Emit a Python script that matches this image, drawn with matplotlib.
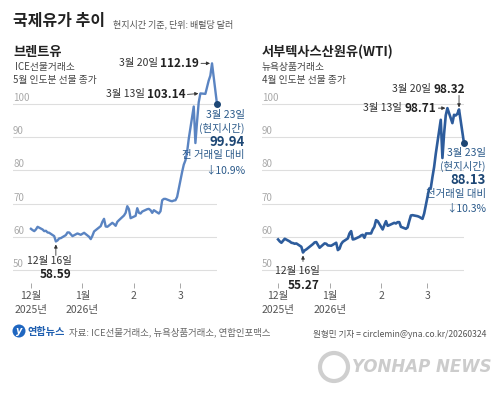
import numpy as np
import pandas as pd
import matplotlib
matplotlib.use("Agg")
import matplotlib.pyplot as plt
from matplotlib.patches import Ellipse

plt.rcParams['font.family'] = ['Noto Sans CJK KR', 'DejaVu Sans']

# 거래일 (12/25, 1/1 휴장 제외)
dates = pd.bdate_range('2025-12-01', '2026-03-23').drop(pd.to_datetime(['2025-12-25', '2026-01-01']))

# 브렌트유 (ICE, 5월물) 종가
brent = [62.4, 62.0, 61.7, 62.2, 63.0, 62.2, 61.7, 61.8, 61.3, 61.2, 60.2, 58.59, 58.9, 59.5, 59.6,
         60.5, 61.3, 61.3, 60.2, 61.0, 60.8, 60.6,
         61.2, 60.0, 59.3, 60.3, 61.6, 62.0, 63.2, 64.5, 65.4, 63.1, 63.0, 64.2, 63.8, 63.3, 64.5,
         65.0, 66.4, 67.2, 69.2, 68.3, 65.6,
         66.3, 68.6, 67.2, 67.0, 67.6, 68.3, 68.4, 68.0, 67.2, 68.0, 67.0, 67.7, 71.0, 71.4, 71.4,
         70.8, 70.7, 70.9, 71.0, 72.0,
         79.5, 81.7, 83.0, 85.5, 89.5, 99.2, 88.2, 94.7, 100.5, 103.14, 103.0, 105.0, 107.0, 108.5,
         112.19, 99.94]

# 서부텍사스산원유 (NYMEX, 4월물) 종가
wti = [59.2, 58.6, 58.2, 58.8, 59.4, 58.6, 58.2, 58.1, 57.9, 58.0, 57.0, 55.27, 55.9, 56.2, 56.6,
       57.8, 58.3, 58.4, 56.7, 58.0, 57.9, 57.4,
       57.3, 58.2, 56.0, 56.4, 57.8, 58.5, 59.5, 61.0, 61.7, 59.2, 59.3, 60.0, 60.4, 60.6, 59.7,
       61.0, 61.0, 62.2, 63.0, 65.0, 64.7,
       62.2, 63.5, 64.7, 63.3, 63.5, 64.2, 64.0, 64.4, 64.4, 63.0, 62.4, 62.8, 64.7, 66.4, 66.5,
       66.2, 66.0, 65.7, 65.4, 67.0,
       74.5, 74.7, 78.0, 81.0, 85.0, 95.2, 83.7, 91.0, 96.5, 98.71, 94.2, 96.7, 96.5, 97.0,
       98.32, 88.13]

tick_dates = pd.to_datetime(['2025-12-01', '2026-01-01', '2026-02-01', '2026-03-01'])
tick_labels = ['12월\n2025년', '1월\n2026년', '2', '3']
y_ticks = [50, 60, 70, 80, 90, 100]

W, H = 500, 397
fig = plt.figure(figsize=(5, 3.97), dpi=100)


def fx(p):
    return p / W


def fy(p):
    return 1 - p / H


def pt(p):
    return p * 0.72


NAVY = '#1d4775'
BLUE_TXT = '#2b5a8a'


def setup(ax, left_days):
    ax.set_xlim(dates[0] - pd.Timedelta(days=left_days), dates[-1])
    ax.set_ylim(49.4, 114.7)
    for s in ax.spines.values():
        s.set_visible(False)
    ax.spines['bottom'].set_position(('outward', pt(11)))
    ax.set_yticks([])
    for v in y_ticks:
        ax.axhline(v, color='#dedede', lw=0.8, zorder=0)
        ax.annotate(str(v), xy=(0, v), xycoords=ax.get_yaxis_transform(), xytext=(0, pt(1)),
                    textcoords='offset points', ha='left', va='bottom', fontsize=7, color='#aaaaaa')
    ax.set_xticks(tick_dates)
    ax.set_xticklabels(tick_labels, fontsize=7.5, color='#555555', linespacing=1.45)
    ax.tick_params(axis='x', length=pt(5), width=0.6, color='#999999', pad=pt(3))


def peak_label(ax, d, v, label, num, dx, dy, arrow):
    # dx, dy: 픽셀 단위 (dy는 아래쪽이 +)
    t = ax.annotate(num, xy=(d, v), xytext=(pt(dx), -pt(dy)), textcoords='offset points',
                    ha='right', va='center', fontsize=8.5, fontweight='bold', color='#222222')
    ax.annotate(label + ' ', xy=(0, 0.5), xycoords=t, ha='right', va='center',
                fontsize=7.5, color='#333333')
    ap = dict(arrowstyle='-|>', color='#333333', lw=0.6, mutation_scale=5, shrinkA=0, shrinkB=pt(2))
    if arrow == 'right':
        ax.annotate('', xy=(d, v), xytext=(pt(dx + 2), -pt(dy)), textcoords='offset points', arrowprops=ap)
    else:
        ax.annotate('', xy=(d, v), xytext=(0, -pt(dy + 6)), textcoords='offset points', arrowprops=ap)


def last_block(ax, d, v, cmp_text, change, dx, dys):
    ax.plot(d, v, 'o', ms=4, color=NAVY, clip_on=False, zorder=5)
    texts = ['3월 23일', '(현지시간)', f'{v:.2f}', cmp_text, change]
    for i, (s, dy) in enumerate(zip(texts, dys)):
        bold = i == 2
        ax.annotate(s, xy=(d, v), xytext=(pt(dx), -pt(dy)), textcoords='offset points',
                    ha='right', va='center', fontsize=9.5 if bold else 7.5,
                    fontweight='bold' if bold else 'normal', color=NAVY if bold else BLUE_TXT,
                    annotation_clip=False)


def low_label(ax, d, v, dx, dys, arrow_start):
    ax.annotate('', xy=(d, v), xytext=(0, -pt(arrow_start)), textcoords='offset points',
                arrowprops=dict(arrowstyle='-|>', color='#333333', lw=0.6, mutation_scale=5,
                                shrinkA=0, shrinkB=pt(3)))
    ax.annotate('12월 16일', xy=(d, v), xytext=(pt(dx), -pt(dys[0])), textcoords='offset points',
                ha='right', va='center', fontsize=7.5, color='#333333', annotation_clip=False)
    ax.annotate(f'{v:.2f}', xy=(d, v), xytext=(pt(dx), -pt(dys[1])), textcoords='offset points',
                ha='right', va='center', fontsize=8.5, fontweight='bold', color='#222222',
                annotation_clip=False)


i20 = list(dates).index(pd.Timestamp('2026-03-20'))
i13 = list(dates).index(pd.Timestamp('2026-03-13'))
i16 = list(dates).index(pd.Timestamp('2025-12-16'))

# 브렌트유
ax1 = fig.add_axes([fx(13), fy(272), fx(217) - fx(13), fy(55) - fy(272)])
setup(ax1, 10.8)
ax1.plot(dates, brent, color='#5a84c2', lw=1.7, clip_on=False, solid_joinstyle='round')
peak_label(ax1, dates[i20], brent[i20], '3월 20일', f'{brent[i20]:.2f}', -13, 0, 'right')
peak_label(ax1, dates[i13], brent[i13], '3월 13일', f'{brent[i13]:.2f}', -15, 1, 'right')
last_block(ax1, dates[-1], brent[-1], '전 거래일 대비', '↓10.9%', 28, [11, 24, 38, 51, 66])
low_label(ax1, dates[i16], brent[i16], 16, [20, 33], 14)

# WTI
ax2 = fig.add_axes([fx(262), fy(272), fx(464) - fx(262), fy(55) - fy(272)])
setup(ax2, 9.7)
ax2.plot(dates, wti, color='#2d5c9c', lw=1.9, clip_on=False, solid_joinstyle='round')
peak_label(ax2, dates[i20], wti[i20], '3월 20일', f'{wti[i20]:.2f}', 6, -20, 'down')
peak_label(ax2, dates[i13], wti[i13], '3월 13일', f'{wti[i13]:.2f}', -11, 0, 'right')
last_block(ax2, dates[-1], wti[-1], '전거래일 대비', '↓10.3%', 22, [10, 23, 37, 51, 65])
low_label(ax2, dates[i16], wti[i16], 17, [19, 33], 9)

# 제목
fig.text(fx(13), fy(21), '국제유가 추이', fontsize=11.5, fontweight='bold', color='#222222', va='center')
fig.text(fx(113), fy(24), '현지시간 기준, 단위: 배럴당 달러', fontsize=6.5, color='#555555', va='center')
fig.text(fx(13), fy(52), '브렌트유', fontsize=9.5, fontweight='bold', color='#222222', va='center')
fig.text(fx(15), fy(67), 'ICE선물거래소', fontsize=7, color='#444444', va='center')
fig.text(fx(13), fy(80), '5월 인도분 선물 종가', fontsize=7, color='#444444', va='center')
fig.text(fx(262), fy(52), '서부텍사스산원유(WTI)', fontsize=9.5, fontweight='bold', color='#222222', va='center')
fig.text(fx(262), fy(67), '뉴욕상품거래소', fontsize=7, color='#444444', va='center')
fig.text(fx(262), fy(80), '4월 인도분 선물 종가', fontsize=7, color='#444444', va='center')

# 하단
fig.add_artist(Ellipse((fx(19), fy(331)), 13 / W, 13 / H, transform=fig.transFigure,
                       facecolor='#1f66c0', edgecolor='none'))
fig.text(fx(19), fy(331), 'y', fontsize=7, style='italic', fontweight='bold', color='white',
         ha='center', va='center', family='DejaVu Sans')
fig.text(fx(27), fy(332), '연합뉴스', fontsize=7.3, fontweight='bold', color='#1f5fb0', va='center')
fig.text(fx(69), fy(332), '자료: ICE선물거래소, 뉴욕상품거래소, 연합인포맥스', fontsize=6.8, color='#666666', va='center')
fig.text(fx(486), fy(334), '원형민 기자 = circlemin@yna.co.kr/20260324', fontsize=6.2, color='#555555',
         va='center', ha='right')

# 워터마크
fig.add_artist(Ellipse((fx(334), fy(367)), 28 / W, 28 / H, transform=fig.transFigure,
                       facecolor='none', edgecolor='#cfcfcf', lw=3))
fig.text(fx(352), fy(367), 'YONHAP NEWS', fontsize=12, fontweight='bold', style='italic',
         color='#cccccc', va='center', family='DejaVu Sans')

fig.savefig('out.png', dpi=100)
